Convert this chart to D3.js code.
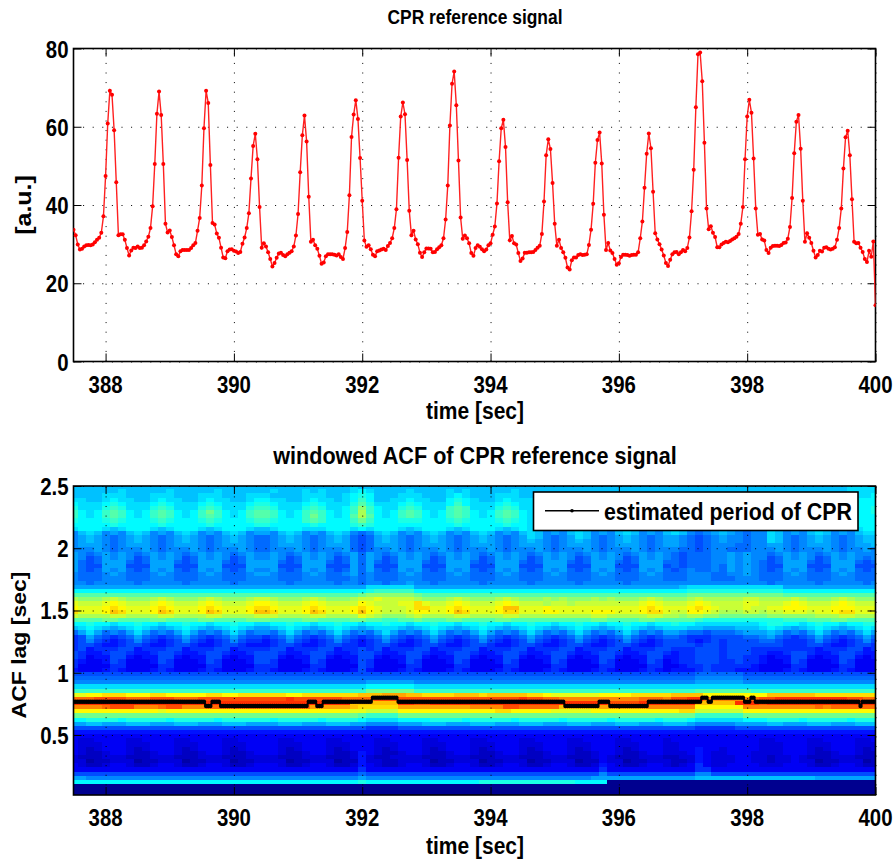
<!DOCTYPE html>
<html>
<head>
<meta charset="utf-8">
<script src="https://cdn.jsdelivr.net/npm/d3@7"></script>
<style>
body { margin: 0; background: #fff; }
svg { display: block; }
text { font-family: "Liberation Sans", sans-serif; font-weight: bold; fill: #000; }
.grid line { stroke: #000; stroke-width: 1; stroke-dasharray: 1 8.6; }
.grid path, .ticks path { display: none; }
.ticks line { stroke: #000; stroke-width: 1; }
</style>
</head>
<body>
<script>
// time axis
var tStart = 387.5, tEnd = 400;
var timeTicks = [388, 390, 392, 394, 396, 398, 400];
var signalTicks = [0, 20, 40, 60, 80];
var lagTicks = [0.5, 1, 1.5, 2, 2.5];

// CPR reference signal, one value per sample (30 Hz)
var signalValues = [
33.7,32.3,29.9,28.6,28.8,29.4,29.7,29.8,29.7,29.9,30.5,31.1,31.6,32.9,37.1,47.4,60.8,69.2,68.2,59.1,
45.8,32.3,32.5,32.5,31.1,29,27.1,28.4,29.1,29,29.4,29,29.1,29.7,30.7,31.9,34.1,39.7,50.5,63.3,
69,63,50.5,35.2,33,33.5,31.8,29.7,27.4,26.9,28.2,28.5,28.5,28.5,28.5,29,29.7,30.3,33.4,36.7,
45,59.6,69.2,66.1,50.2,35.4,35,32.7,31.6,29.1,26.6,26.4,28.2,28.6,28.7,28.3,28.1,27.7,28,30.1,
31.7,34.1,37.9,46.8,55.1,58.2,51.7,39.5,29.1,30.2,29.4,27.9,26.2,24.3,25.2,26.5,27.6,27.8,27.2,26.9,
27.4,27.8,28.2,29.4,32.2,37.7,48.4,57.8,62.9,56.2,42.1,30.6,31.1,29.7,28.8,27,25,25.3,26.9,27.4,
27.4,27.4,27.3,27.1,27.4,26.7,26.2,29,33.1,42.5,57.4,63.1,66.8,62,52,41.1,30.9,29.3,29.7,28.7,
27.3,26.9,28.2,28.4,28.6,28.8,28.5,29.5,30.3,31.5,34.1,38.9,52.1,62.6,66.2,63.2,51.5,38.5,32.3,33.4,
31.2,30,27.8,26.7,27.9,28.9,28.9,28.8,27.9,28,28.7,29.2,29.7,31.5,36.3,45,60.3,71,74.1,65.5,
51.4,36.8,31.4,32.2,31.5,30.2,27.7,27,29,29.7,29.3,28.7,28.2,28.6,29.7,30.2,32.4,34.5,40.4,51.2,
59.6,61.8,54.8,40.7,31,32.1,30.2,29.9,27.7,25.7,26.3,27.8,27.8,27.9,27.9,28,28.5,29.1,29.6,32.6,
40.9,52.7,56.8,54.3,45.6,35.2,29.6,31.1,29,27.9,26.5,24,23.5,25.9,26.6,26.6,27.2,27.4,27.2,27.3,
27.4,29.8,33.7,40.3,50.8,56.6,58.5,50.6,37.5,28.5,30.3,
28.4,27.7,26.2,24.7,25.1,26.7,27.3,27.3,27.2,27,27.2,27.3,27.3,27.9,31.5,35.8,44.4,53.1,58.3,54.5,
43.4,32.8,31.2,30,28.6,27.1,25.2,24.4,26,27.4,27.9,28,27.4,27.9,28.5,28.2,29,31.7,38.4,49,
65,78.5,79,71.6,55.9,39.1,33.8,34.6,32.9,31.8,29.2,29.2,29.9,30.3,30.6,30.5,30.8,31.2,31.5,31.9,
32.6,35.2,39.5,51.7,62.6,66.9,63.6,51.9,39.1,32.4,32.6,31.2,30.9,28.5,27.7,29.1,29.5,29.6,29.6,29.5,
29.8,30.3,30.4,31.4,34.4,41.8,53.2,61.3,63,54.4,41.1,30.6,32.8,31.6,30.3,28.3,26.6,27.2,28.3,28.1,
29.1,29.2,28.8,28.6,28.8,29.2,31.1,34.1,39.1,49.3,57.3,59,52.7,41.5,30.6,30.2,30.3,29.1,28,26.2,
25.4,28.3,26.8,30.7,14.4
];

// estimated period: lag in samples (1/30 s) and how many samples it holds
var periodLevels = [23,22,23,22,23,22,23,24,23,22,23,22,23,24,23,24,23,24,23,22,23];
var periodCounts = [62,3,4,41,4,3,23,12,78,16,5,18,25,3,2,15,3,2,49,1,7];

// windowed ACF, top row = largest lag, one column per 0.125 s, colour index 0-z (spaces only group the beats)
var acfRows = [
"bb bbbbbb bbbbbb bbbbbb bbbbbbb bbbbbb bbcbbb bbbbbb bbbbbb bbbbbb bbbbbb bbbbbb bbbbbb bbbbbb bbbbbb bbbbbb bbbbcc cc",
"bb bbbbcb bbbbcb bbbbcb bbbbbcb bbcbcb bbcdcb bbbcbb bbcbcb bbbbcb bbbbbb bbbbbb bbbbbb bbbbbb bbbbbb bbbbbb bbbbcc cc",
"bb bbcccb bbcccb bbcccb bbcccbb bbcccb bcdedb bbcccb bbcdcb bbcccb bbcccb bbcccb bbcccb bbcccb bbcccb bbcccb bbcccc cd",
"cc bbcdcc bbcdcc bbcdcc bbcddcc bbcdcc bcdfdb bccdcc bbdedc bbcdcc cccccc cccccc cccccc cccccc cccccc cccccc cccccd dd",
"dc ccdedc ccdedc ccdedc ccdeedc ccdedc ccegec ccdedc ccdfdc ccdedc cccccc cccccc cccccc cccccc cccccc cccccc cccccd dd",
"ec ccefec ccefec ccefec cceffec ccefec cdfifd ccefec ccfgfc ccefec cccccc cccccc cccccc cccccc cccccc cccccc cccccd de",
"fd cdfgfd cdfgfd cdfhfd cdfggfd cdfgfd cdfjfd cdfgfd cdfgfd cdfgfd cccccc cccccc cccccc cccccc cccccc cccccc cccccd de",
"fd cdfgfd cdfgfd cdfgfd cdfggfd cdfhfd cdgjgd cdfgfd cdfgfd cdfgfd cccccc cccccc cccccc cccccc cccccc cccccc cccccd dd",
"ed ddefed ddefed ddefed ddeffed ddfgfd ddfhfd ddeeed ddefed ddefed cccccc cccccc cccccc cccccc cccccc cccccc cccccd dd",
"dd dddedd dddedd dddedd dddeedd dddedd ddefed dddddd dddedd dddedd cccccc cccccc cccccc cccccc cccccc cccccc cccccd dd",
"cd ddcbcd ddcbcd ddcbcd ddcbbcd ddcccd ddcdcd ddcbcd ddcbcd ddcbcd ccbbbc ccbbbc ccbbbc bbaaab bbbabc dcbabc dcbabc dd",
"9b cb9a9b cb9a9b cb9a9b cb9aa9b cb9a9b cb989b cb9a9b cb9a9b cb9a9b cb9a9b cb9a9b cb9a9b cb989a ba9899 cb9a9b cb9a9b cc",
"9a ba989a ba989a ba989a ba9889a ba989a ba878a ba989a ba989a ba989a cb989a cb989a ba989a a98789 a99899 cb989a ba989a bb",
"9a ba989a ba989a ba989a ba9889a ba989a ba878a ba989a ba989a ba989a ba989a ba989a ba989a a98789 a99899 cb989a ba989a bb",
"9a aa989a aa989a aa989a aa9889a aa989a aa878a aa989a aa989a aa989a aa989a aa989a aa989a a98789 998899 aa989a aa989a ab",
"99 9a9899 9a9899 9a9899 9a98899 9a9899 9a8789 9a9899 9a9899 9a9899 9a9899 9a9899 9a9899 988789 988899 9a9899 9a9899 a9",
"a9 89a9a9 89a9a9 89a9a9 89a99a9 89a9a9 89a8a9 89a9a9 89a9a9 89a9a9 89a9a9 89a9a9 89a9a9 878889 9a9a99 89a9a9 89a9a9 99",
"a9 78a9a9 78a9a9 78a9a9 78a99a9 78a9a9 78a8a9 78a9a9 78a9a9 78a9a9 78a9a9 78a9a9 78a9a9 878889 9a9a99 78a9a9 78a9a9 89",
"a8 78aaa8 78aaa8 78aaa8 78aaaa8 78aaa8 78a8a8 78aaa8 78aaa8 78aaa8 78aaa8 78aaa8 78aaa8 878889 9a9a98 78aaa8 78aaa8 78",
"a8 77aaa7 77aaa7 77aaa7 77aaaa7 77aaa7 77a8a7 77aaa7 77aaa7 77aaa7 77aaa7 77aaa7 77aaa7 878889 8a9a98 77aaa7 77aaa7 77",
"a8 78a9a8 78a9a8 78a9a8 78a99a8 78a9a8 78a8a8 78a9a8 78a9a8 78a9a8 78a9a8 78a9a8 78a9a8 789889 8a9a98 78a9a8 78a9a8 78",
"98 889a98 889a98 889a98 889aa98 889a98 89a898 889a98 889a98 889a98 889a98 889a98 889a98 889998 899a98 889a98 889a98 88",
"98 889998 889998 889998 8899998 889998 889898 889998 889998 889998 889998 889998 889998 889998 889998 889998 889998 88",
"99 899999 899999 899999 8999999 899999 899899 899a99 899999 899999 899999 899999 899999 999999 999999 899999 899999 89",
"aa aaaaaa aaaaaa aaaaaa aaaaaaa aaaaaa aaaacc ccccaa aaaaaa aaaaaa aaaaaa aaaaaa aaaaaa abcccc cccccc ccaaaa aaaaaa aa",
"dd dddddd dddddd dddddd ddddddd dddddd ddddef ffffdd dddddd dddddd dddddd dddddd dddddd ddeeee eeeeee eedddd dddddd dd",
"gg gggggg gggggg gggggg ggggggg gggggg ggghii iiiihg gggggg gggggg gggggg gggggg gggggg gghhhh hhhhhh hhgggg gggggg gg",
"ji iijkji iijkji iijkji iijkkji iijkji iijkkl kkkkji iijkji iijkji iijiji iijiji iijkji iijkjj jjjkkj jjjkji iijkji ii",
"lk kklmlk kklmlk kklmlk kklmmlk kklmlk kkkmlk kkllnl kklmlk kklmlk kkjkkj kkkkkk kklmlk kklmlk kkkllk kklmlk kklmlk kk",
"ml llmnml llmnml llmnml llmnnml llmnml llmnml kkklnn llmnml llmool llmlll llllll llmnml llmnml kkklkk llmmml llmmml ll",
"nl llmonl llmonl llmonl llmoonl llmonl llmoml kkklmm llmonl llmnnl llmmll llmmml llmnnl kkmmlk jjjkkj kklllk llmnnl ll",
"kj jjjkkj jjjkkj jjjkkj jjjkkkj jjjkkj jjjlkj iiijkj jjjkkj jjjkkj jjjjjj jjkkjj jjjkkj jijjii hhhhhh iiiiii jjjkkj jj",
"gg gghhgg gghhgg gghhgg gghhhgg gghhgg gghhgg ffgghg gghhgg gghhgg gggggg gghhgg gghhgg gggfee eeeeee eefffg gghhgg gg",
"dd eddcdd eddcdd eddcdd eddccdd eddcdd eddcdd eddcdd eddcdd eddcdd eddcdd eddcdd eddcdd eddccc cccccd eeddcd eddcdd ee",
"bc dcbabc dcbabc dcbabc dcbaabc dcbabc dcbabc ccbabc dcbabc dcbabc dcbabc dcbabc dcbabc ccbbaa aabbbc dcbabc dcbabc dc",
"8a ca898a ca898a ca898a ca8998a ca898a ca898a ca898a ca898a ca898a ca898a ca898a ca898a a98878 889aaa ba898a ca898a ca",
"67 a87678 a87678 a87678 a877678 a87678 a87678 a87678 a87678 a87678 a87678 a87678 a87678 876667 777889 a87678 a87678 a8",
"67 976567 976567 976567 9766567 976567 976567 976567 976567 976567 976567 976567 976567 776567 677778 876667 976567 97",
"67 765567 765567 765567 7655567 765567 766567 765567 765567 765567 765567 765567 765567 777677 677777 776667 765567 76",
"67 566677 566677 566677 5666677 566677 566767 566677 566677 566677 566677 566677 566677 666777 677766 666666 566677 56",
"76 556776 556776 556776 5567776 556776 556776 556776 556776 556776 556776 556776 556776 566777 677766 556776 556776 55",
"76 455775 455775 455775 4557775 455775 455775 455775 455775 455775 455775 455775 455775 566777 677665 455775 455775 45",
"65 445764 445764 445764 4457764 445764 445764 445764 445764 445764 445764 445764 445764 566777 667665 445764 445764 44",
"64 444664 444664 444664 4446664 444664 444764 444664 444664 444664 444664 444664 444664 456676 666654 444664 444664 44",
"54 445654 445654 445654 4456654 445654 445754 445654 445654 445654 445654 445654 445654 555676 665554 445654 445654 44",
"77 777777 777777 777777 7777777 777777 777777 777777 777777 777777 777777 777777 777777 777888 888777 777777 777777 77",
"88 888888 888888 888888 8888888 888888 888888 888888 888888 888888 888888 888888 888888 888999 999888 888888 888888 88",
"99 999999 999999 999999 9999999 999999 9999aa aaaa99 999999 999999 999999 999999 999999 999aaa aaa999 999999 999999 99",
"cc cccccc cccccc cccccc ccccccc cccccc ccccdd ddddcc cccccc cccccc cccccc cccccc cccccc cccccc cccccc cccccc cccccc cc",
"ff ffffff ffffff ffffff fffffff ffffff ffffhh hhhhff ffffff ffffff ffffff ffffff ffffff fffggg ggggff ffffff ffffff ff",
"ll mmnnnm mmnnmm mmmnnm mnnnnnn mmnnnn nnnooo pppoon nnnooo nooooo nnmlll lllmmm mnnnnn oooomm mmmmmm oooooo nnnnnn nn",
"rr rssssr rrsssr rrssss sssssss tsssss srrrrs ssssss ssssss ssssst ssrrqq qqqqqq qqrrrq ssttqq qqqqrs sttttt ttttss rr",
"tt tttttt tttttt tttttt ttttttt tttttt ttoooo oottss tttttt tttttt tttttt ttttss sstttt tttooo oottts tttttt tttttt tt",
"qq qqrsss qqqrss qqqrrr rrrrrrr rrrppp pponnn nnpppp pppppq qqqssr rrrroo oooppp pppqqq qqqmmm mmmqqq qqqqqq rqrrrr rr",
"mm mmmmmm mmmlmm mmmmmm mmmmmmm mmmmmm mmllkk kkmmmm mmmmmm mmnnmm mmmlll llmmmm mmmmmm mnnkkk kkkmmm mmmmmm mmmmmm mm",
"hh hhhhhh hhhhhh hhhhhh hhhhhhh hhhhhh hhhgff ffhhhh hhhhhh hhhhhh hhhhhh hhhhhh hhhhhh hhhfff fffhhh hhhhhh hhhhhh hh",
"dd eeeede eeeede eeeede eeeeede eeeede eeedcc ccdddd eeeede eeeede eeeede eeeede eeeede eedccc cccddd eeeede eeeede ee",
"aa bbaaab bbaaab bbaaab bbaaaab bbaaab bbaa99 99aaab bbaaab bbaaab bbaaab bbaaab bbaaab bba999 99aaaa bbaaab bbaaab bb",
"77 777777 777777 777777 7777777 777777 777766 667777 777777 777777 777777 777777 777777 777666 667777 777777 777777 77",
"55 555555 555555 555555 5555555 555555 555555 555555 555555 555555 555555 555555 555555 555555 555555 555555 555555 55",
"44 444444 444444 444444 4444444 444444 444444 444444 444444 444444 444444 444444 444444 444444 444444 444444 444444 44",
"43 344443 344443 344443 3444443 344443 344443 344443 344443 344443 344443 344443 344443 444444 444443 344443 344443 34",
"43 334443 334443 334443 3344443 334443 334443 334443 334443 334443 334443 334443 334443 344444 444443 334443 334443 33",
"43 234443 234443 234443 2344443 234443 234443 234443 234443 234443 234443 234443 234443 344544 344443 334443 234443 23",
"43 223443 223443 223443 2234443 223443 223543 223443 223443 223443 223443 223443 223443 334543 344433 334443 223443 22",
"32 223332 223332 223332 2233332 223332 223532 233332 223332 223332 223332 223432 223332 233543 334433 233432 223332 22",
"33 122333 122333 122333 1223333 122333 122533 223333 122333 122333 122333 122433 122333 223543 334433 233433 122333 12",
"43 223443 223443 223443 2234443 223443 223543 223443 223443 223443 223443 223543 223443 234643 344443 334443 223443 22",
"44 444444 444444 444444 4444444 444444 444644 444444 444444 444444 444444 444644 444444 444664 444444 444444 444444 44",
"77 777777 777777 777777 7777777 777777 777877 777777 777777 777777 777777 777977 777777 777997 777777 777777 777777 77",
"aa 999999 999999 999999 9999999 999999 999a99 999999 999999 999999 999999 99aaaa aaaaaa aaabbb bbbbbb bbbbbb aaaaaa aa",
"dd dddddd dddddd dddddd ddddddd dddddd dddedd dddddd dddddd eeeeee eeeeee dddd00 000000 000000 000000 000000 000000 00",
"00 000000 000000 000000 0000000 000000 000000 000000 000000 000000 000000 000000 000000 000000 000000 000000 000000 00",
"00 000000 000000 000000 0000000 000000 000000 000000 000000 000000 000000 000000 000000 000000 000000 000000 000000 00",
"00 000000 000000 000000 0000000 000000 000000 000000 000000 000000 000000 000000 000000 000000 000000 000000 000000 00"
];
var acfStep = 0.125;
var acfTopLag = 2.49;

var svg = d3.select("body").append("svg").attr("width", 896).attr("height", 866);

var x1 = d3.scaleLinear().domain([tStart, tEnd]).range([73.5, 875.5]);
var y1 = d3.scaleLinear().domain([0, 80]).range([361.5, 48.5]);
var y2 = d3.scaleLinear().domain([0.018, 2.5]).range([795, 486]);

// jet colormap
var jet = d3.scaleLinear()
    .domain([0, 0.125, 0.375, 0.625, 0.875, 1])
    .range(["#00008f", "#0000ff", "#00ffff", "#ffff00", "#ff0000", "#800000"]);
var levels = "0123456789abcdefghijklmnopqrstuvwxyz";

// the original text looks squeezed sideways, so every label gets a small x scale
var addText = function (str, xp, yp, size, squeeze, anchor) {
    return svg.append("text")
        .attr("font-size", size)
        .attr("text-anchor", anchor || "middle")
        .attr("transform", "translate(" + xp + "," + yp + ") scale(" + squeeze + ",1)")
        .text(str);
};
var addVertical = function (str, xp, yp, size, squeeze) {
    return svg.append("text")
        .attr("font-size", size)
        .attr("text-anchor", "middle")
        .attr("transform", "translate(" + xp + "," + yp + ") rotate(-90) scale(1," + squeeze + ")")
        .text(str);
};

var drawFrame = function (x, y, yTicks, top, bottom) {
    var g = svg.append("g");
    var w = x.range()[1] - x.range()[0];
    var h = bottom - top;
    g.append("g").attr("class", "grid").attr("transform", "translate(0," + bottom + ")")
        .call(d3.axisBottom(x).tickValues(timeTicks).tickSize(-h).tickFormat(""));
    g.append("g").attr("class", "grid").attr("transform", "translate(" + x.range()[0] + ",0)")
        .call(d3.axisLeft(y).tickValues(yTicks).tickSize(-w).tickFormat(""));
    // short inner ticks on all four sides
    g.append("g").attr("class", "ticks").attr("transform", "translate(0," + bottom + ")")
        .call(d3.axisBottom(x).tickValues(timeTicks).tickSize(-8).tickFormat(""));
    g.append("g").attr("class", "ticks").attr("transform", "translate(0," + top + ")")
        .call(d3.axisTop(x).tickValues(timeTicks).tickSize(-8).tickFormat(""));
    g.append("g").attr("class", "ticks").attr("transform", "translate(" + x.range()[0] + ",0)")
        .call(d3.axisLeft(y).tickValues(yTicks).tickSize(-8).tickFormat(""));
    g.append("g").attr("class", "ticks").attr("transform", "translate(" + x.range()[1] + ",0)")
        .call(d3.axisRight(y).tickValues(yTicks).tickSize(-8).tickFormat(""));
    g.append("rect").attr("x", x.range()[0]).attr("y", top).attr("width", w).attr("height", h)
        .attr("fill", "none").attr("stroke", "#000").attr("stroke-width", 1.6);

    // tick labels
    timeTicks.forEach(function (d) {
        addText(d, x(d), bottom + 31, 24, 0.85);
    });
    yTicks.forEach(function (d) {
        addText(d, x.range()[0] - 5, y(d) + 9, 24, 0.85, "end");
    });
};

function sampleTime(i, n) {
    return tStart + i * (tEnd - tStart) / (n - 1);
}

// ---- top panel ----
var line1 = d3.line()
    .x(function (d, i) { return x1(sampleTime(i, signalValues.length)); })
    .y(function (d) { return y1(d); });

svg.append("clipPath").attr("id", "clip1").append("rect")
    .attr("x", 73.5).attr("y", 48).attr("width", 802).attr("height", 314);
drawFrame(x1, y1, signalTicks, 48.5, 361.5);
var sig = svg.append("g").attr("clip-path", "url(#clip1)");
sig.append("path").datum(signalValues).attr("d", line1)
    .attr("fill", "none").attr("stroke", "#ff2020").attr("stroke-width", 1.4);
sig.selectAll("circle").data(signalValues).join("circle")
    .attr("cx", function (d, i) { return x1(sampleTime(i, signalValues.length)); })
    .attr("cy", function (d) { return y1(d); })
    .attr("r", 2).attr("fill", "#ff0000");

// ---- bottom panel ----
svg.append("clipPath").attr("id", "clip2").append("rect")
    .attr("x", 73.5).attr("y", 486).attr("width", 802).attr("height", 309);
var heat = svg.append("g").attr("clip-path", "url(#clip2)").attr("shape-rendering", "crispEdges");
acfRows.forEach(function (row, n) {
    var cells = row.replace(/ /g, "").split("");
    var lag = acfTopLag - n / 30;
    heat.append("g").selectAll("rect").data(cells).join("rect")
        .attr("x", function (d, k) { return x1(tStart + (k - 0.5) * acfStep); })
        .attr("width", x1(tStart + acfStep) - x1(tStart) + 0.5)
        .attr("y", y2(lag + 1 / 60))
        .attr("height", y2(lag - 1 / 60) - y2(lag + 1 / 60) + 0.5)
        .attr("fill", function (d) { return jet(levels.indexOf(d) / 35); });
});
drawFrame(x1, y2, lagTicks, 486, 795);

// estimated period line
var periodValues = [];
periodLevels.forEach(function (lv, i) {
    d3.range(periodCounts[i]).forEach(function () { periodValues.push(lv / 30); });
});
var line2 = d3.line()
    .x(function (d, i) { return x1(sampleTime(i, periodValues.length)); })
    .y(function (d) { return y2(d); });
var est = svg.append("g").attr("clip-path", "url(#clip2)");
est.append("path").datum(periodValues).attr("d", line2)
    .attr("fill", "none").attr("stroke", "#000").attr("stroke-width", 2);
est.selectAll("circle").data(periodValues).join("circle")
    .attr("cx", function (d, i) { return x1(sampleTime(i, periodValues.length)); })
    .attr("cy", function (d) { return y2(d); })
    .attr("r", 2.2).attr("fill", "#000");

// legend
var legend = svg.append("g");
legend.append("rect").attr("x", 533.5).attr("y", 492).attr("width", 324.5).attr("height", 38.5)
    .attr("fill", "#fff").attr("stroke", "#000").attr("stroke-width", 1.6);
legend.append("line").attr("x1", 545).attr("x2", 599).attr("y1", 510.7).attr("y2", 510.7)
    .attr("stroke", "#000").attr("stroke-width", 1.6);
legend.append("circle").attr("cx", 572).attr("cy", 510.7).attr("r", 1.8).attr("fill", "#000");
addText("estimated period of CPR", 604, 520, 24, 0.89, "start");

// titles and axis labels
addText("CPR reference signal", 475, 24, 20, 0.87);
addText("time [sec]", 475, 419, 24, 0.875);
addVertical("[a.u.]", 31, 205, 25, 0.87);
addText("windowed ACF of CPR reference signal", 475, 464, 24, 0.9);
addText("time [sec]", 475, 854, 24, 0.875);
addVertical("ACF lag [sec]", 26, 645, 23, 0.87);
</script>
</body>
</html>
